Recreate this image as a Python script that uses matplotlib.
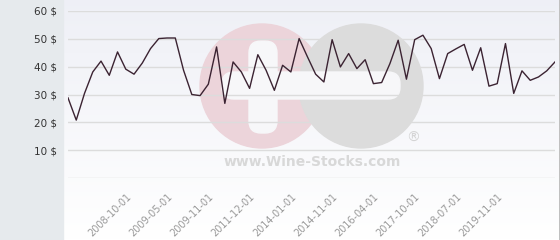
import numpy as np
import matplotlib
matplotlib.use('Agg')
import matplotlib.pyplot as plt
from matplotlib.patches import Rectangle, Circle, FancyBboxPatch

# price per month (category index)
prices = [28.8, 20.8, 30.4, 38.1, 42.0, 36.9, 45.3, 39.1, 37.3, 41.3,
          46.5, 50.1, 50.3, 50.3, 38.7, 30.0, 29.6, 33.7, 47.1, 26.8,
          41.7, 38.1, 32.2, 44.3, 38.7, 31.5, 40.5, 38.1, 50.1, 43.6,
          37.3, 34.5, 49.7, 39.9, 44.7, 39.3, 42.5, 33.9, 34.3, 41.1,
          49.5, 35.5, 49.7, 51.3, 46.5, 35.7, 44.7, 46.4, 48.0, 38.7,
          46.8, 33.0, 33.9, 48.3, 30.4, 38.5, 35.1, 36.3, 38.5, 41.7]
tick_labels = ['2008-10-01', '2009-05-01', '2009-11-01', '2011-12-01', '2014-01-01',
               '2014-11-01', '2016-04-01', '2017-10-01', '2018-07-01', '2019-11-01']
tick_idx = [7, 12, 17, 22, 27, 32, 37, 42, 47, 52]
yticks = [10, 20, 30, 40, 50, 60]

W, H = 560., 240.
fig = plt.figure(figsize=(5.6, 2.4), dpi=100, facecolor='white')

# background: left grey panel + gradient plot area
bg = fig.add_axes([0, 0, 1, 1], zorder=0)
bg.set_xlim(0, W)
bg.set_ylim(H, 0)
bg.axis('off')
grad = np.linspace(0, 1, 100).reshape(-1, 1)
top = np.array([0.935, 0.94, 0.965])
bot = np.array([1.0, 1.0, 1.0])
img = top + (bot - top) * grad[:, :, None]
bg.imshow(img, extent=[63, 559, H, 0], aspect='auto', zorder=0)
bg.add_patch(Rectangle((0, 0), 63, H, color='#e6eaed', zorder=1))
bg.plot([559.5, 559.5], [0, H], color='#b4b4b4', lw=1.2, zorder=1)

# watermark
bg.add_patch(Circle((262, 86), 62, color='#ecd4da', zorder=2))
bg.add_patch(Circle((361, 86), 62, color='#dcdcdc', zorder=3))
bg.add_patch(FancyBboxPatch((222, 72), 178, 27, boxstyle='round,pad=0,rounding_size=12',
                            color='#f7f7f9', zorder=4))
bg.add_patch(FancyBboxPatch((249, 41), 28, 92, boxstyle='round,pad=0,rounding_size=12',
                            color='#f7f7f9', zorder=4))
bg.text(312, 162, 'www.Wine-Stocks.com', ha='center', va='center', fontsize=10,
        fontweight='bold', color='#d8d8d8', zorder=4)
bg.text(413, 138, '\u00ae', ha='center', va='center', fontsize=10,
        color='#d4d4d4', zorder=4)

# main chart
ax = fig.add_axes([68 / W, 1 - 178 / H, (555 - 68) / W, (178 - 11) / H], zorder=2)
ax.patch.set_alpha(0)
x = np.arange(len(prices))
ax.plot(x, prices, color='#3b2332', lw=1.0, zorder=3)
ax.set_xlim(0, len(prices) - 1)
ax.set_ylim(0, 60)
for v in [0] + yticks:
    ax.axhline(v, color='#dcdcdc', lw=1.0, zorder=1)
for s in ax.spines.values():
    s.set_visible(False)
ax.set_yticks(yticks)
ax.set_yticklabels(['%d $' % v for v in yticks], fontsize=7.5, color='#333333')
ax.tick_params(axis='y', length=0, pad=8)
ax.set_xticks(tick_idx)
ax.set_xticklabels(tick_labels, rotation=45, ha='right', rotation_mode='anchor',
                   fontsize=7, color='#999999')
ax.tick_params(axis='x', length=0, pad=10)

plt.savefig('out.png', dpi=100, facecolor='white')
